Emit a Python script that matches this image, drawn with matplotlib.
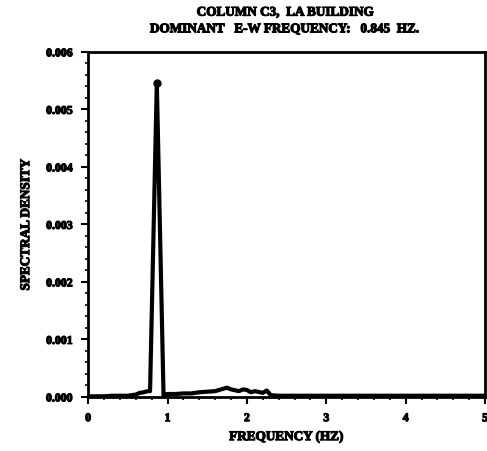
import matplotlib
matplotlib.use("Agg")
import matplotlib.pyplot as plt
import matplotlib.patheffects as pe
from matplotlib.ticker import MultipleLocator, FormatStrFormatter

title_lines = ["COLUMN C3,  LA BUILDING", "DOMINANT   E-W FREQUENCY:   0.845  HZ."]
x_label = "FREQUENCY (HZ)"
y_label = "SPECTRAL DENSITY"

freq = [0.0, 0.1, 0.2, 0.3, 0.4, 0.5, 0.6, 0.65, 0.7, 0.75, 0.78, 0.865, 0.95, 0.97,
        1.0, 1.1, 1.2, 1.3, 1.4, 1.5, 1.6, 1.7, 1.75, 1.8, 1.9, 1.95, 2.0, 2.05,
        2.1, 2.2, 2.25, 2.3, 2.4, 2.6, 3.0, 3.5, 4.0, 4.5, 5.0]
density = [0.00001, 0.00001, 0.00001, 0.00002, 0.00002, 0.00002, 0.00004, 0.00007, 0.00008, 0.0001, 0.0001, 0.00546, 0.00001, 0.00004,
           0.00005, 0.00005, 0.00006, 0.00006, 0.00008, 0.00009, 0.0001, 0.00014, 0.00016, 0.00013, 0.0001, 0.00013, 0.00012, 0.00008,
           0.0001, 0.00007, 0.00011, 0.00003, 0.00002, 0.00002, 0.00002, 0.00002, 0.00002, 0.00002, 0.00002]
peak_freq = [0.865]
peak_val = [0.00546]

xticks = [0, 1, 2, 3, 4, 5]
yticks = [0.0, 0.001, 0.002, 0.003, 0.004, 0.005, 0.006]

plt.rcParams['font.family'] = ['Liberation Serif', 'DejaVu Serif']
plt.rcParams['font.weight'] = 'bold'

heavy = [pe.withStroke(linewidth=0.8, foreground='black')]

fig = plt.figure(figsize=(4.87, 4.51), dpi=100)
ax = fig.add_axes([0.181, 0.120, 0.815, 0.765])

ax.plot(freq, density, color='black', lw=3.0, solid_joinstyle='round')
ax.plot(peak_freq, peak_val, 'o', color='black', ms=5)

ax.set_xlim(0, 5)
ax.set_ylim(0, 0.006)
ax.set_xticks(xticks)
ax.set_yticks(yticks)
ax.yaxis.set_major_formatter(FormatStrFormatter('%.3f'))
ax.xaxis.set_minor_locator(MultipleLocator(0.2))
ax.yaxis.set_minor_locator(MultipleLocator(0.0002))
ax.tick_params(which='major', direction='out', length=5, width=1.5, labelsize=8.5, pad=6)
ax.tick_params(which='minor', direction='out', length=2.5, width=1.2)
for lab in ax.get_xticklabels() + ax.get_yticklabels():
    lab.set_fontweight('bold')
    lab.set_path_effects(heavy)
for s in ax.spines.values():
    s.set_linewidth(2)

ax.set_xlabel(x_label, fontsize=9.5, fontweight='bold', labelpad=5, path_effects=heavy)
ax.set_ylabel(y_label, fontsize=9.5, fontweight='bold', labelpad=10, path_effects=heavy)
fig.text(0.586, 0.972, title_lines[0], ha='center', va='center', fontsize=9.5, fontweight='bold', path_effects=heavy)
fig.text(0.586, 0.935, title_lines[1], ha='center', va='center', fontsize=9.5, fontweight='bold', path_effects=heavy)

fig.savefig("out.png", dpi=100)
